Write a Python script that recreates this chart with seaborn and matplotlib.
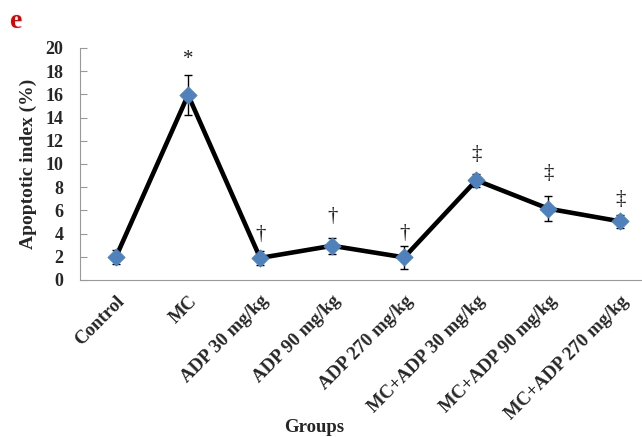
import numpy as np
import pandas as pd
import matplotlib
matplotlib.use('Agg')
import matplotlib.pyplot as plt
import seaborn as sns

grupos = ['Control', 'MC', 'ADP 30 mg/kg', 'ADP 90 mg/kg', 'ADP 270 mg/kg',
          'MC+ADP 30 mg/kg', 'MC+ADP 90 mg/kg', 'MC+ADP 270 mg/kg']
media = [2.0, 15.95, 1.9, 2.95, 1.95, 8.6, 6.15, 5.05]
erro = [0.62, 1.75, 0.62, 0.7, 0.97, 0.55, 1.05, 0.55]
marcas = ['', '*', '†', '†', '†', '‡', '‡', '‡']
marca_y = [None, 19.0, 3.9, 5.5, 4.0, 10.8, 9.2, 6.9]

sns.set_style('white')
plt.rcParams['font.family'] = ['Liberation Serif', 'DejaVu Serif']

df = pd.DataFrame({'Grupo': grupos, 'Media': media, 'Erro': erro, 'pos': np.arange(len(grupos))})

fig = plt.figure(figsize=(6.42, 4.37), dpi=100)
ax = fig.add_axes([80/642, 1-280/437, 1-80/642, (280-48)/437])

ax.errorbar(df['pos'], df['Media'], yerr=df['Erro'], fmt='none', ecolor='black',
            elinewidth=1, capsize=3, capthick=1, zorder=2)
sns.lineplot(data=df, x='pos', y='Media', color='black', linewidth=3.3, ax=ax, zorder=3)
sns.scatterplot(data=df, x='pos', y='Media', marker='D', s=75, color='#4F81BD',
                edgecolor='#4F81BD', ax=ax, zorder=4)

for i, (m, yy) in enumerate(zip(marcas, marca_y)):
    if m:
        ax.text(i, yy, m, ha='center', va='center', fontsize=15, color='#222222')

ax.set_xlim(-0.5, 7.3)
ax.set_ylim(0, 20)
ax.set_yticks(range(0, 21, 2))
ax.set_xticks(df['pos'])
ax.set_xticklabels(grupos, rotation=45, ha='right', rotation_mode='anchor',
                   fontweight='bold', fontsize=13.5)
for lab in ax.get_yticklabels():
    lab.set_fontweight('bold')
    lab.set_fontsize(13)
ax.tick_params(axis='y', length=5, color='#999999', direction='in', left=True, pad=12)
ax.tick_params(axis='x', length=0, pad=9)

sns.despine(ax=ax)
ax.spines['left'].set_color('#999999')
ax.spines['bottom'].set_color('#999999')
ax.set_ylabel('Apoptotic index (%)', fontweight='bold', fontsize=14, labelpad=6)
ax.set_xlabel('')
fig.text(314/642, 1-428/437, 'Groups', ha='center', va='center', fontweight='bold', fontsize=13.5)
fig.text(10/642, 1-22/437, 'e', ha='left', va='center', fontweight='bold', fontsize=20, color='#E00000')

plt.savefig('out.png', dpi=100)
